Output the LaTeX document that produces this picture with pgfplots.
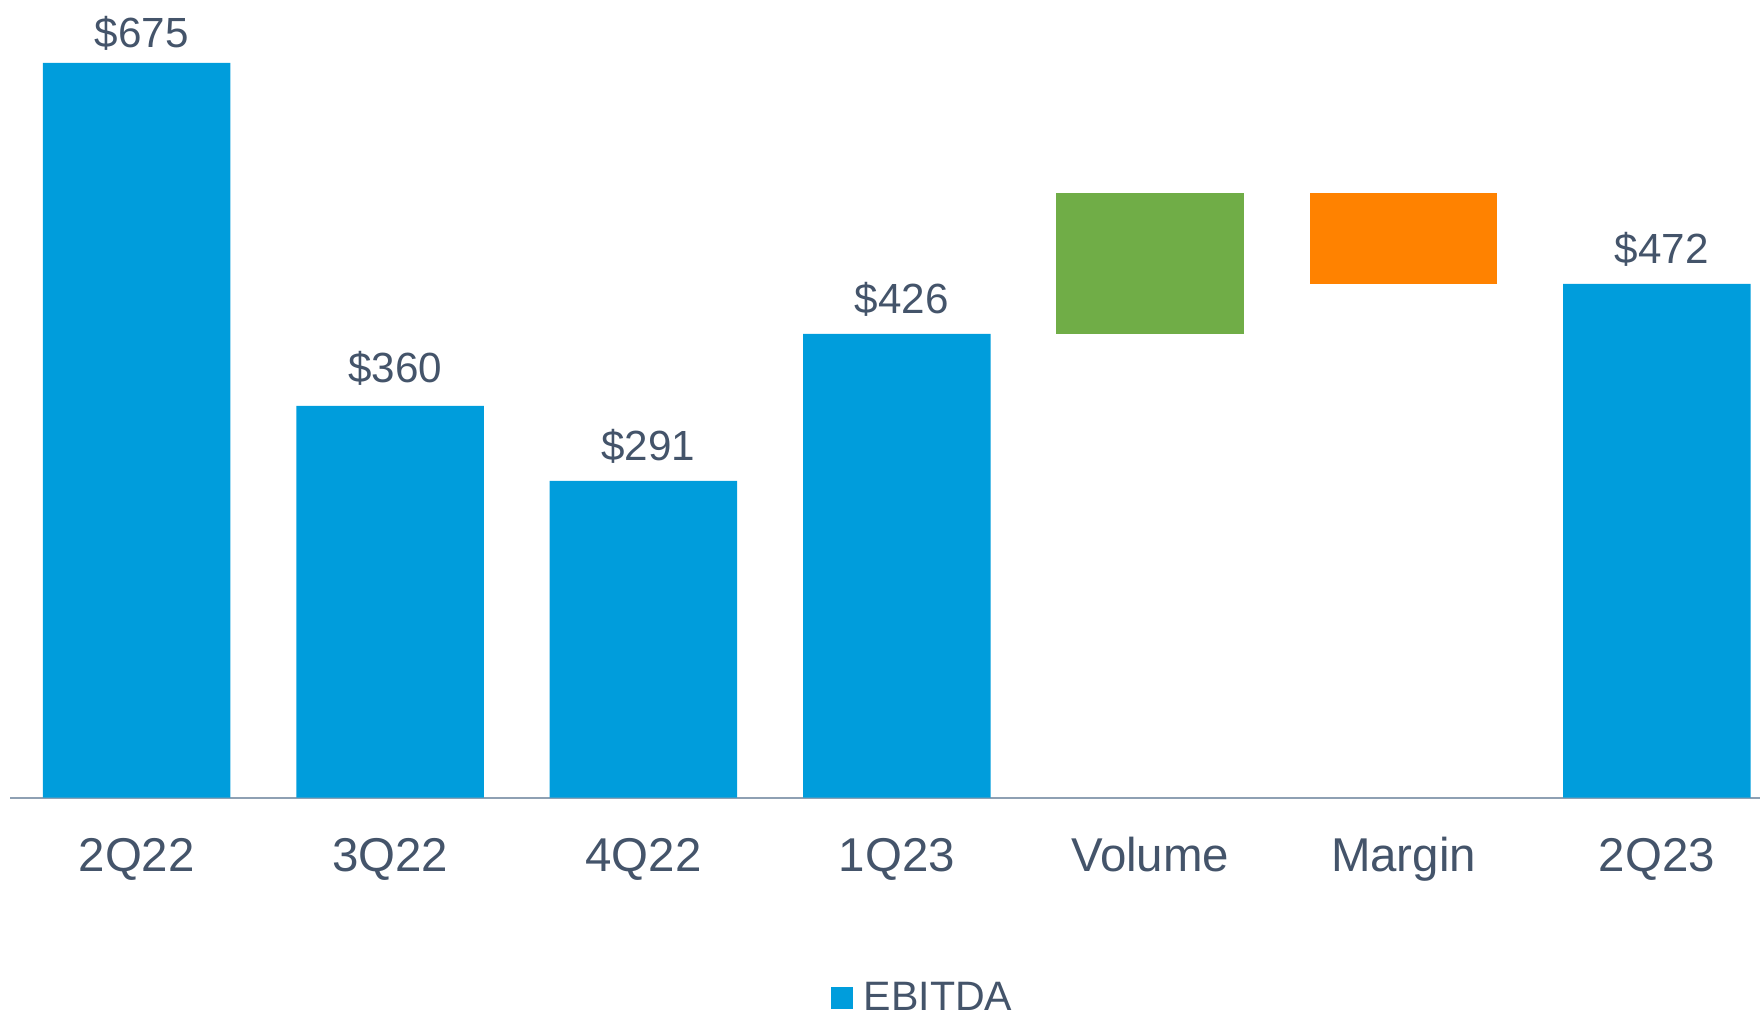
\documentclass[border=0pt]{standalone}
\usepackage{fontspec}
\setmainfont{Liberation Sans}
\usepackage{pgfplots}
\pgfplotsset{compat=1.18}
\definecolor{ebblue}{HTML}{009DDC}
\definecolor{ebgreen}{HTML}{70AD47}
\definecolor{eborange}{HTML}{FF8200}
\definecolor{txt}{HTML}{44546A}
\definecolor{axgray}{HTML}{8EA0B3}
\pgfplotsset{
  commonaxis/.style={
    at={(1mm,21.73mm)}, anchor=south west,
    scale only axis, width=175mm, height=76.21mm,
    xmin=-0.5, xmax=6.407, ymin=0, ymax=700,
    enlarge x limits=false, enlarge y limits=false,
    bar width=0.74, clip=false,
  }
}
\begin{document}
\begin{tikzpicture}
% floating bars of the bridge (stacked on an invisible base)
\begin{axis}[commonaxis, ybar stacked, hide axis]
\addplot[draw=none, fill=none]
  coordinates {(0,0) (1,0) (2,0) (3,0) (4,426) (5,472) (6,0)};
\addplot[fill=ebgreen, draw=none]
  coordinates {(0,0) (1,0) (2,0) (3,0) (4,129) (5,0) (6,0)};
\addplot[fill=eborange, draw=none]
  coordinates {(0,0) (1,0) (2,0) (3,0) (4,0) (5,83) (6,0)};
\end{axis}
% EBITDA bars
\begin{axis}[commonaxis, ybar, bar shift=0pt,
  axis x line=bottom, hide y axis,
  x axis line style={-, draw=axgray, line width=0.57pt},
  xtick={0,1,2,3,4,5,6},
  xticklabels={2Q22,3Q22,4Q22,1Q23,Volume,Margin,2Q23},
  major tick length=0pt,
  xticklabel style={anchor=base, yshift=-7.4mm, font=\fontsize{13.5}{16}\selectfont, text=txt},
  legend style={at={(axis cs:2.737,-201)}, anchor=south west, draw=none, fill=none, inner sep=0pt,
    nodes={inner sep=0pt, font=\fontsize{11.7}{14}\selectfont, text=txt},
    /tikz/every odd column/.append style={column sep=1.1mm}},
]
\addplot[fill=ebblue, draw=none,
  legend image code/.code={\fill[ebblue] (0mm,-1mm) rectangle (2.2mm,1.2mm);},
  point meta=explicit symbolic, nodes near coords,
  nodes near coords style={anchor=base, yshift=2mm, xshift=0.5mm, font=\fontsize{12}{14}\selectfont, text=txt}]
  coordinates {(0,675)[\raisebox{-0.5mm}{\$675}] (1,360)[\raisebox{0.3mm}{\$360}] (2,291)[\$291] (3,426)[\$426] (6,472)[\$472]};
\legend{EBITDA}
\end{axis}
\pgfresetboundingbox
\path[use as bounding box] (0,0) rectangle (176mm,101.5mm);
\end{tikzpicture}
\end{document}
